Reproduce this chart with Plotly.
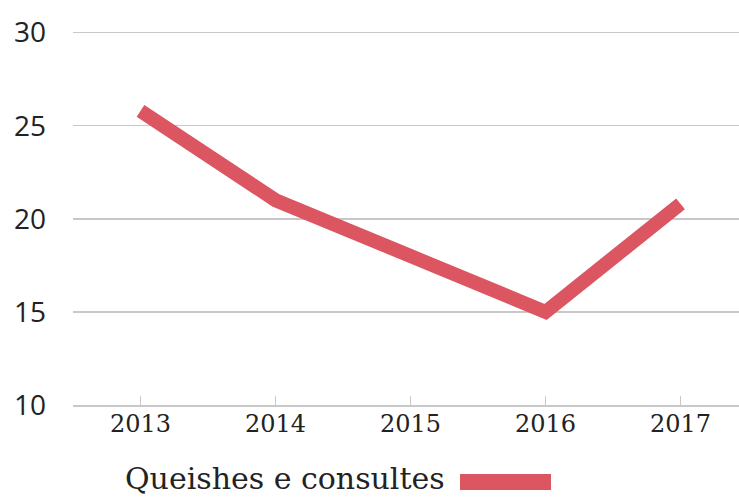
import plotly.graph_objects as go

years = ["2013", "2014", "2015", "2016", "2017"]
values = [25.8, 21.0, 18.0, 15.0, 20.8]
series_name = "Queishes e consultes"
y_ticks = [10, 15, 20, 25, 30]

color = "#db5660"
serif = "DejaVu Serif"
sans = "Open Sans"

W, H = 739, 498
Y_TOP = 30.3
PX_PER_UNIT = (405 - 33) / 20.0
L = 73
T = 33 - (Y_TOP - 30) * PX_PER_UNIT
B = H - 405
PW, PH = W - L, H - T - B

fig = go.Figure()
fig.add_trace(go.Scatter(
    x=years, y=values, mode="lines", name=series_name,
    line=dict(color=color, width=14), showlegend=False,
))

fig.update_layout(
    width=W, height=H,
    margin=dict(l=L, r=0, t=T, b=B, autoexpand=False),
    plot_bgcolor="white", paper_bgcolor="white",
    xaxis=dict(
        type="category", range=[-0.5, 4.433], automargin=False,
        showgrid=False, showline=True, linecolor="#c8c8c8", linewidth=1.5,
        ticks="inside", ticklen=9, tickcolor="#c8c8c8", tickwidth=1,
        tickfont=dict(family=serif, size=24, color="#222"),
        ticklabelstandoff=-3,
    ),
    yaxis=dict(
        range=[10, Y_TOP], tickvals=y_ticks, automargin=False,
        showgrid=True, gridcolor="#c8c8c8", gridwidth=1.5,
        zeroline=False, showline=False,
        tickfont=dict(family=sans, size=28, color="#222"),
        ticklabelstandoff=26,
    ),
)

# legend built as annotation + sample line below the plot
fig.add_annotation(
    x=(447 - L) / PW, y=-(478 - 405) / PH, xref="paper", yref="paper",
    xanchor="right", yanchor="middle", text=series_name, showarrow=False,
    font=dict(family=serif, size=30, color="#222"),
)
fig.add_shape(
    type="line", xref="paper", yref="paper",
    x0=(460 - L) / PW, x1=(551 - L) / PW,
    y0=-(482 - 405) / PH, y1=-(482 - 405) / PH,
    line=dict(color=color, width=16),
)

fig.write_html(
    "out.html",
    config={"displayModeBar": False, "staticPlot": True},
    post_script="document.body.style.margin='0';document.body.style.overflow='hidden';",
)
